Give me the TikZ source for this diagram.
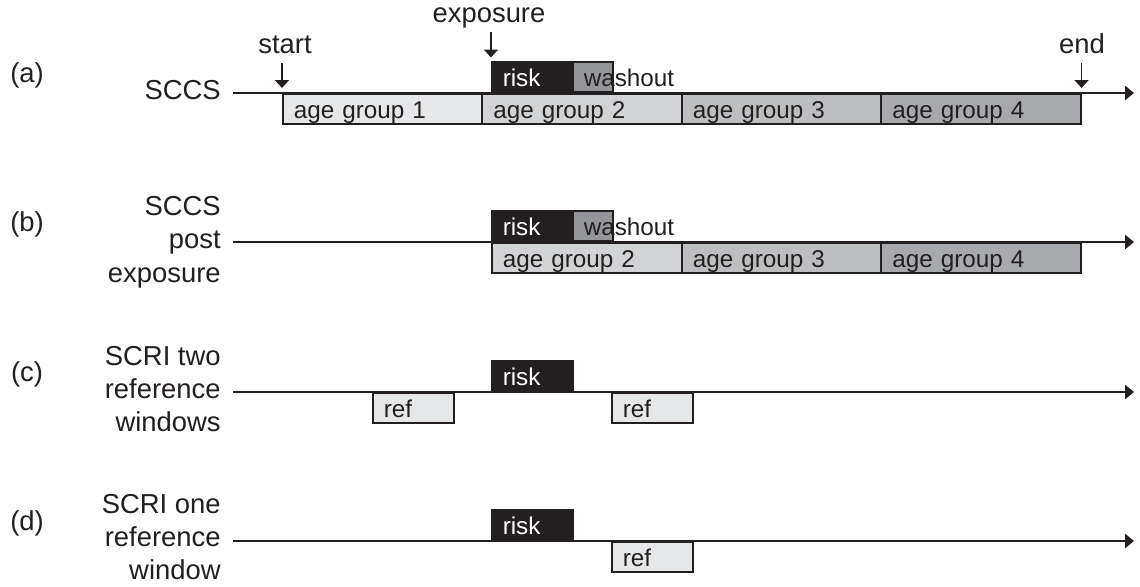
\documentclass[tikz,border=0pt]{standalone}
\usepackage{fontspec}
\setmainfont{Liberation Sans}
\usetikzlibrary{arrows.meta}
\definecolor{InkGray}{HTML}{231F20}
\definecolor{AgeOne}{HTML}{E6E7E8}
\definecolor{AgeTwo}{HTML}{D1D3D4}
\definecolor{AgeThree}{HTML}{BCBEC0}
\definecolor{AgeFour}{HTML}{A7A9AC}
\definecolor{WashGray}{HTML}{939598}
\tikzset{
  segbox/.style={rectangle, draw=InkGray, line width=0.9pt, anchor=north west,
                inner xsep=0.22cm, inner ysep=0pt, minimum height=0.6cm,
                text height=0.44cm, text depth=0.06cm, text width=#1, align=left,
                font=\fontsize{13.8}{16}\selectfont, text=InkGray},
  riskbox/.style={segbox=1.18cm, fill=InkGray, text=white},
  washbox/.style={segbox=0.36cm, fill=WashGray},
  refbox/.style={segbox=1.18cm, fill=AgeOne},
  rowlabel/.style={anchor=east, align=right, inner sep=0pt,
                font=\fontsize{15.6}{19}\selectfont, text=InkGray},
  caselabel/.style={inner sep=0pt, font=\fontsize{15.6}{19}\selectfont, text=InkGray},
  timeline/.style={-{Triangle[length=5pt,width=8pt]}, line width=0.9pt, InkGray},
  markarrow/.style={-{Triangle[length=4.5pt,width=8pt]}, line width=0.8pt, InkGray},
}

\begin{document}
\begin{tikzpicture}[x=0.02cm, y=-0.02cm]
    % Coordinate map (units of the 1140x586 frame, y downwards):
    % timelines at y = 93 (a), 242 (b), 392 (c), 541 (d), x = 233 -> 1134
    % risk 491--572, washout 572--612, ref 372--453 and 611--692
    % age groups 282 / 481.5 / 681 / 880.5 / 1080
    \useasboundingbox (0,0) rectangle (1140,586);

    \coordinate (AxA) at (233,93);  \coordinate (TipA) at (1134,93);
    \coordinate (AxB) at (233,242); \coordinate (TipB) at (1134,242);
    \coordinate (AxC) at (233,392); \coordinate (TipC) at (1134,392);
    \coordinate (AxD) at (233,541); \coordinate (TipD) at (1134,541);

    \draw[timeline] (AxA) -- (TipA);
    \draw[timeline] (AxB) -- (TipB);
    \draw[timeline] (AxC) -- (TipC);
    \draw[timeline] (AxD) -- (TipD);

    % (a) SCCS
    \node[caselabel] (CaseA) at (27,75) {(a)};
    \node[rowlabel, anchor=base east] (LblA) at (221,99) {SCCS};
    \node[segbox=3.55cm, fill=AgeOne] (AgeA1) at (282,93) {age group 1};
    \node[segbox=3.55cm, fill=AgeTwo] (AgeA2) at (481.5,93) {age group 2};
    \node[segbox=3.55cm, fill=AgeThree] (AgeA3) at (681,93) {age group 3};
    \node[segbox=3.55cm, fill=AgeFour] (AgeA4) at (880.5,93) {age group 4};
    \node[riskbox, anchor=south west] (RiskA) at (491,93) {risk};
    \node[washbox, anchor=south west] (WashA) at (572,93) {\mbox{washout}};

    \node[caselabel, anchor=base] (StartLbl) at (285,53) {start};
    \node[caselabel, anchor=base] (ExpoLbl) at (489,22) {exposure};
    \node[caselabel, anchor=base] (EndLbl) at (1082,53) {end};
    \draw[markarrow, shorten <=0.18cm, shorten >=0.1cm] (StartLbl.south -| AgeA1.north west) -- (AgeA1.north west);
    \draw[markarrow, shorten <=0.08cm, shorten >=0.08cm] (ExpoLbl.south -| RiskA.north west) -- (RiskA.north west);
    \draw[markarrow, shorten <=0.18cm, shorten >=0.1cm] (EndLbl.south -| AgeA4.north east) -- (AgeA4.north east);

    % (b) SCCS post exposure
    \node[caselabel] (CaseB) at (27,224) {(b)};
    \node[rowlabel] (LblB) at (221,242) {SCCS\\post\\exposure};
    \node[segbox=3.36cm, fill=AgeTwo] (AgeB2) at (491,242) {age group 2};
    \node[segbox=3.55cm, fill=AgeThree] (AgeB3) at (681,242) {age group 3};
    \node[segbox=3.55cm, fill=AgeFour] (AgeB4) at (880.5,242) {age group 4};
    \node[riskbox, anchor=south west] (RiskB) at (491,242) {risk};
    \node[washbox, anchor=south west] (WashB) at (572,242) {\mbox{washout}};

    % (c) SCRI, two reference windows
    \node[caselabel] (CaseC) at (27,374) {(c)};
    \node[rowlabel] (LblC) at (221,389) {SCRI two\\reference\\windows};
    \node[refbox] (RefC1) at (372,392) {ref};
    \node[riskbox, anchor=south west] (RiskC) at (491,392) {risk};
    \node[refbox] (RefC2) at (611,392) {ref};

    % (d) SCRI, one reference window
    \node[caselabel] (CaseD) at (27,523) {(d)};
    \node[rowlabel] (LblD) at (221,537) {SCRI one\\reference\\window};
    \node[riskbox, anchor=south west] (RiskD) at (491,541) {risk};
    \node[refbox] (RefD) at (611,541) {ref};
\end{tikzpicture}
\end{document}
